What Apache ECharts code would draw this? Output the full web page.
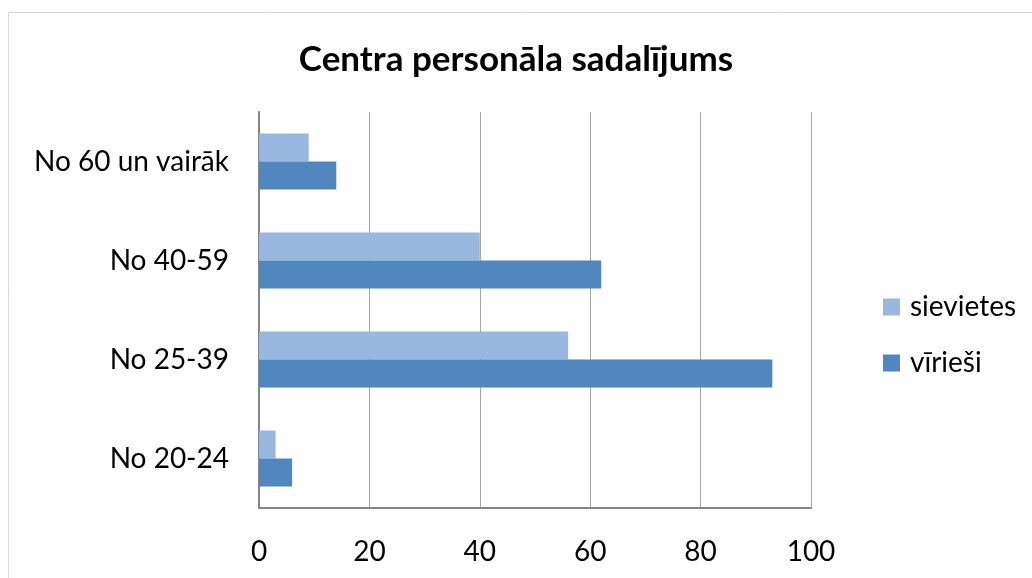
<!DOCTYPE html>
<html>
<head>
<meta charset="utf-8">
<script src="https://cdn.jsdelivr.net/npm/echarts@6/dist/echarts.min.js"></script>
<style>
html, body { margin: 0; padding: 0; background: #fff; }
#chart { width: 1032px; height: 578px; }
</style>
</head>
<body>
<div id="chart"></div>
<script>
const categories = ['No 20-24', 'No 25-39', 'No 40-59', 'No 60 un vairāk']
const sievietes = [3, 56, 40, 9]
const virieši = [6, 93, 62, 14]
const xTicks = [0, 20, 40, 60, 80, 100]

const font = 'Lato, "Open Sans", sans-serif'
const chart = echarts.init(document.getElementById('chart'))
chart.setOption({
	animation: false,
	textStyle: { fontFamily: font },
	graphic: [
		{
			type: 'rect',
			shape: { x: 8.5, y: 12.5, width: 1040, height: 600 },
			style: { fill: 'none', stroke: '#d9d9d9', lineWidth: 1 }
		}
	],
	title: {
		text: 'Centra personāla sadalījums',
		left: 'center',
		top: 37,
		textStyle: { fontFamily: font, fontSize: 35, fontWeight: 'bold', color: '#000' }
	},
	legend: {
		orient: 'vertical',
		left: 878,
		top: 288,
		icon: 'rect',
		itemWidth: 17,
		itemHeight: 17,
		itemGap: 28,
		data: ['sievietes', 'vīrieši'],
		textStyle: { fontFamily: font, fontSize: 28, color: '#000', padding: [0, 0, 0, 5] }
	},
	grid: { left: 259, right: 221, top: 112, bottom: 70 },
	xAxis: {
		type: 'value',
		min: xTicks[0],
		max: xTicks[xTicks.length - 1],
		interval: 20,
		axisLine: { show: true, lineStyle: { color: '#868686', width: 2 } },
		axisTick: { show: false },
		axisLabel: { fontSize: 28, color: '#000', margin: 30 },
		splitLine: { lineStyle: { color: '#a6a6a6', width: 1 } }
	},
	yAxis: {
		type: 'category',
		data: categories,
		axisLine: { show: true, lineStyle: { color: '#868686', width: 2 } },
		axisTick: { show: false },
		axisLabel: { fontSize: 28, color: '#000', margin: 30 }
	},
	series: [
		{
			name: 'sievietes',
			type: 'bar',
			data: sievietes,
			barWidth: 28,
			barGap: 0,
			itemStyle: { color: '#98b8df' }
		},
		{
			name: 'vīrieši',
			type: 'bar',
			data: virieši,
			barWidth: 28,
			barGap: 0,
			itemStyle: { color: '#4f87be' }
		}
	]
})
</script>
</body>
</html>
